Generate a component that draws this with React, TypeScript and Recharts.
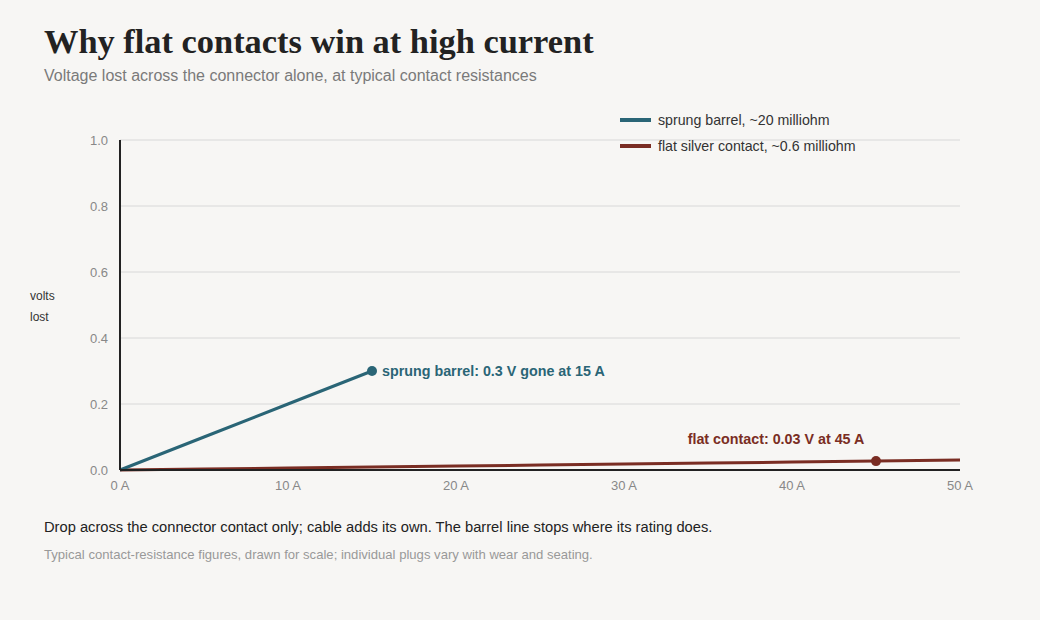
import React from 'react';
import { LineChart, Line, XAxis, YAxis, CartesianGrid, ReferenceDot } from 'recharts';

const amps = [0, 5, 10, 15, 20, 25, 30, 35, 40, 45, 50];
const barrelVolts = [0, 0.1, 0.2, 0.3, null, null, null, null, null, null, null];
const flatVolts = [0, 0.003, 0.006, 0.009, 0.012, 0.015, 0.018, 0.021, 0.024, 0.027, 0.03];
const xTicks = [0, 10, 20, 30, 40, 50];
const yTicks = [0, 0.2, 0.4, 0.6, 0.8, 1.0];

const TEAL = '#2a6576';
const BROWN = '#7a2d23';
const SANS = '"Liberation Sans", Arial, sans-serif';

const data = amps.map((a, i) => ({ amps: a, barrel: barrelVolts[i], flat: flatVolts[i] }));

const legendItems = [
  { label: 'sprung barrel, ~20 milliohm', color: TEAL },
  { label: 'flat silver contact, ~0.6 milliohm', color: BROWN },
];

const LegendBox = () => (
  <div style={{ position: 'absolute', left: 620, top: 107, fontFamily: SANS, fontSize: 14.2, color: '#333', zIndex: 2 }}>
    {legendItems.map((it) => (
      <div key={it.label} style={{ display: 'flex', alignItems: 'center', height: 26 }}>
        <span style={{ display: 'inline-block', width: 31, height: 4, background: it.color, marginRight: 7 }} />
        {it.label}
      </div>
    ))}
  </div>
);

const App: React.FC = () => {
  return (
    <div style={{ position: 'absolute', left: 0, top: 0, width: 1040, height: 620, background: '#f7f6f4', overflow: 'hidden' }}>
      <div style={{ position: 'absolute', left: 44, top: 22, fontFamily: '"Liberation Serif", "Times New Roman", serif', fontWeight: 700, fontSize: 34.4, color: '#222' }}>
        Why flat contacts win at high current
      </div>
      <div style={{ position: 'absolute', left: 44, top: 67, fontFamily: SANS, fontSize: 16, color: '#7a7a7a' }}>
        Voltage lost across the connector alone, at typical contact resistances
      </div>
      <div style={{ position: 'absolute', left: 30, top: 286, fontFamily: SANS, fontSize: 12, color: '#333', lineHeight: '21px' }}>
        volts<br />lost
      </div>
      <LineChart width={1040} height={620} data={data} margin={{ top: 140, right: 80, bottom: 120, left: 80 }} style={{ position: 'absolute', left: 0, top: 0 }}>
        <CartesianGrid vertical={false} stroke="#d8d8d8" />
        <XAxis
          dataKey="amps"
          type="number"
          domain={[0, 50]}
          ticks={xTicks}
          tickFormatter={(v) => `${v} A`}
          tickLine={false}
          tickSize={0}
          tickMargin={11}
          height={30}
          axisLine={{ stroke: '#222', strokeWidth: 2 }}
          tick={{ fill: '#888', fontSize: 13, fontFamily: SANS }}
        />
        <YAxis
          type="number"
          domain={[0, 1]}
          ticks={yTicks}
          tickFormatter={(v) => v.toFixed(1)}
          tickLine={false}
          tickSize={0}
          tickMargin={12}
          width={40}
          axisLine={{ stroke: '#222', strokeWidth: 2 }}
          tick={{ fill: '#888', fontSize: 13, fontFamily: SANS }}
        />
        <Line dataKey="flat" stroke={BROWN} strokeWidth={3} dot={false} isAnimationActive={false} />
        <Line dataKey="barrel" stroke={TEAL} strokeWidth={3} dot={false} connectNulls={false} isAnimationActive={false} />
        <ReferenceDot
          x={15}
          y={0.3}
          r={5}
          fill={TEAL}
          stroke="none"
          label={{ value: 'sprung barrel: 0.3 V gone at 15 A', position: 'right', offset: 5, fill: TEAL, fontSize: 14.3, fontWeight: 700, fontFamily: SANS }}
        />
        <ReferenceDot
          x={45}
          y={0.027}
          r={5}
          fill={BROWN}
          stroke="none"
          label={{ value: 'flat contact: 0.03 V at 45 A', position: 'top', offset: 12, dx: -100, fill: BROWN, fontSize: 14.3, fontWeight: 700, fontFamily: SANS }}
        />
      </LineChart>
      <LegendBox />
      <div style={{ position: 'absolute', left: 44, top: 519, fontFamily: SANS, fontSize: 14.7, color: '#222' }}>
        Drop across the connector contact only; cable adds its own. The barrel line stops where its rating does.
      </div>
      <div style={{ position: 'absolute', left: 44, top: 547, fontFamily: SANS, fontSize: 13.1, color: '#999' }}>
        Typical contact-resistance figures, drawn for scale; individual plugs vary with wear and seating.
      </div>
    </div>
  );
};

export default App;
